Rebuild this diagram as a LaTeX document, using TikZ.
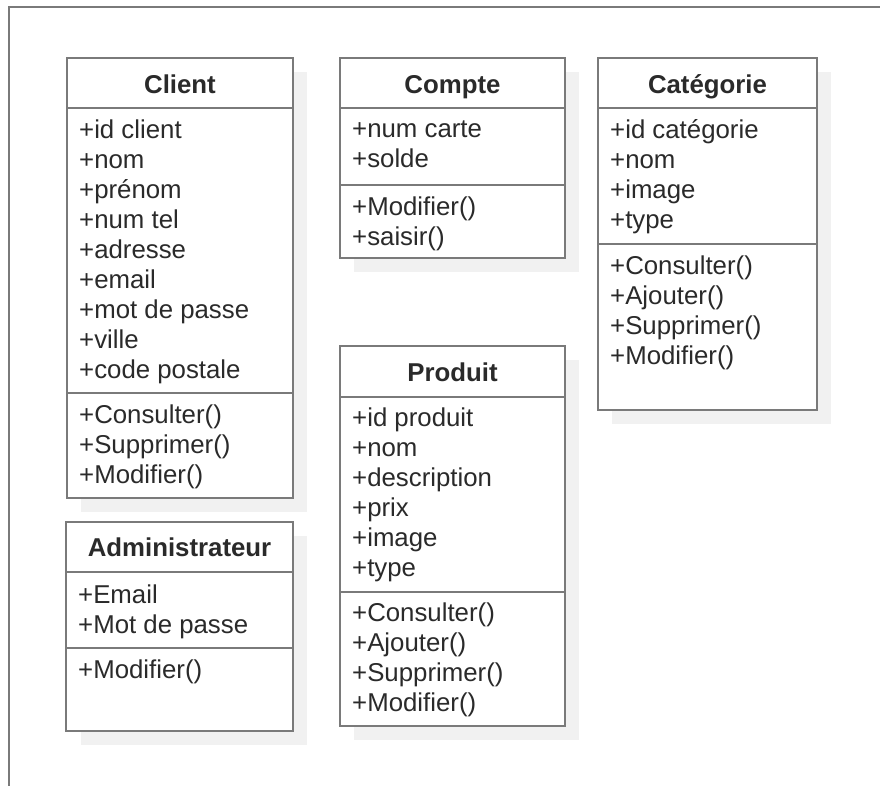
\documentclass[tikz,border=0pt]{standalone}
\usepackage{fontspec}
\setmainfont{Liberation Sans}
\definecolor{framegray}{HTML}{7A7A7A}
\definecolor{shadowgray}{HTML}{F1F1F1}
\definecolor{inkgray}{HTML}{2A2A2A}
\tikzset{
  classframe/.style={draw=framegray, line width=2.6pt, fill=white, rectangle,
    inner sep=0pt, outer sep=0pt, anchor=north west},
  classshadow/.style={fill=shadowgray},
  classsep/.style={draw=framegray, line width=2.4pt},
  classtitle/.style={anchor=base, inner sep=0pt, text=inkgray,
    font=\fontsize{25.8}{30}\selectfont\bfseries},
  member/.style={anchor=base west, inner sep=0pt, text=inkgray,
    font=\fontsize{25.8}{30}\selectfont},
  pageframe/.style={draw=framegray, line width=2.2pt}
}
\begin{document}
\begin{tikzpicture}[x=1pt, y=-1pt]
\useasboundingbox (0,0) rectangle (880,785);

% page border (top and left edges)
\coordinate (pgtl) at (9,7);
\coordinate (pgtr) at (881,7);
\coordinate (pgbl) at (9,786);
\draw[pageframe] (pgtr) -- (pgtl) -- (pgbl);

% ---------- Client ----------
\fill[classshadow] (81,72) rectangle (307,512);
\node[classframe, minimum width=226pt, minimum height=440pt] (client) at (67,58) {};
\node[classtitle] (client-t) at (180,93) {Client};
\draw[classsep] (client.west |- 0,108) -- (client.east |- 0,108);
\draw[classsep] (client.west |- 0,393) -- (client.east |- 0,393);
\foreach \txt [count=\i from 0] in {+id client,+nom,+pr\'enom,+num tel,+adresse,+email,+mot de passe,+ville,+code postale}
  \node[member] (client-a\i) at (79,138+30*\i) {\txt};
\foreach \txt [count=\i from 0] in {+Consulter(),+Supprimer(),+Modifier()}
  \node[member] (client-m\i) at (79,423+30*\i) {\txt};

% ---------- Compte ----------
\fill[classshadow] (354,72) rectangle (579,272);
\node[classframe, minimum width=225pt, minimum height=200pt] (compte) at (340,58) {};
\node[classtitle] (compte-t) at (452.5,93) {Compte};
\draw[classsep] (compte.west |- 0,108) -- (compte.east |- 0,108);
\draw[classsep] (compte.west |- 0,185) -- (compte.east |- 0,185);
\foreach \txt [count=\i from 0] in {+num carte,+solde}
  \node[member] (compte-a\i) at (352,137+30*\i) {\txt};
\foreach \txt [count=\i from 0] in {+Modifier(),+saisir()}
  \node[member] (compte-m\i) at (352,215+30*\i) {\txt};

% ---------- Categorie ----------
\fill[classshadow] (612,72) rectangle (831,424);
\node[classframe, minimum width=219pt, minimum height=352pt] (categorie) at (598,58) {};
\node[classtitle] (categorie-t) at (707.5,93) {Cat\'egorie};
\draw[classsep] (categorie.west |- 0,108) -- (categorie.east |- 0,108);
\draw[classsep] (categorie.west |- 0,244) -- (categorie.east |- 0,244);
\foreach \txt [count=\i from 0] in {+id cat\'egorie,+nom,+image,+type}
  \node[member] (categorie-a\i) at (610,138+30*\i) {\txt};
\foreach \txt [count=\i from 0] in {+Consulter(),+Ajouter(),+Supprimer(),+Modifier()}
  \node[member] (categorie-m\i) at (610,274+30*\i) {\txt};

% ---------- Produit ----------
\fill[classshadow] (354,360) rectangle (579,740);
\node[classframe, minimum width=225pt, minimum height=380pt] (produit) at (340,346) {};
\node[classtitle] (produit-t) at (452.5,381) {Produit};
\draw[classsep] (produit.west |- 0,397) -- (produit.east |- 0,397);
\draw[classsep] (produit.west |- 0,592) -- (produit.east |- 0,592);
\foreach \txt [count=\i from 0] in {+id produit,+nom,+description,+prix,+image,+type}
  \node[member] (produit-a\i) at (352,426+30*\i) {\txt};
\foreach \txt [count=\i from 0] in {+Consulter(),+Ajouter(),+Supprimer(),+Modifier()}
  \node[member] (produit-m\i) at (352,621+30*\i) {\txt};

% ---------- Administrateur ----------
\fill[classshadow] (81,536) rectangle (307,745);
\node[classframe, minimum width=227pt, minimum height=209pt] (admin) at (66,522) {};
\node[classtitle] (admin-t) at (179.5,556) {Administrateur};
\draw[classsep] (admin.west |- 0,572) -- (admin.east |- 0,572);
\draw[classsep] (admin.west |- 0,648) -- (admin.east |- 0,648);
\foreach \txt [count=\i from 0] in {+Email,+Mot de passe}
  \node[member] (admin-a\i) at (78,603+30*\i) {\txt};
\node[member] (admin-m0) at (78,678) {+Modifier()};
\end{tikzpicture}
\end{document}
